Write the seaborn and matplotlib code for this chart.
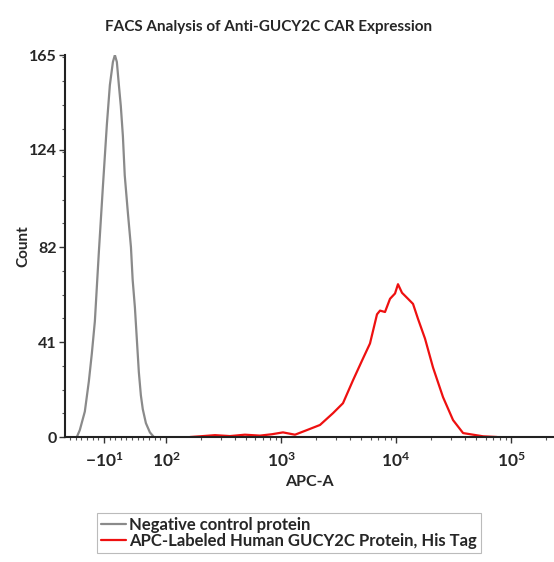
import numpy as np
import pandas as pd
import matplotlib
matplotlib.use("Agg")
import matplotlib.pyplot as plt
from matplotlib.ticker import FixedLocator, AutoMinorLocator
import seaborn as sns

# APC-A intensity vs event count
neg_x = [-58, -52.7, -43.8, -36.7, -31.4, -26, -18.9, -11.8, -4.7, 0.6, 6, 9.5,
         13, 16.6, 20, 23.7, 27, 32.5, 38, 41, 45, 48.5, 52, 55.6, 59, 64.5, 71.6, 78.7]
neg_y = [0, 3, 11, 24, 36, 50, 80, 108, 135, 152, 162, 165,
         162, 152, 143, 130, 113, 97, 82, 68, 56, 42, 28, 18, 12, 6, 2, 0]

apc_x = [162, 198, 267, 360, 486, 656, 835, 1041, 1324, 1683, 2183, 2833, 3459,
         4227, 5062, 5938, 6834, 7260, 8020, 8866, 9800, 10400, 11270, 12710,
         14050, 15530, 17860, 20970, 25620, 31310, 38270, 46770, 57150, 75590]
apc_y = [0, 0.3, 0.8, 0.4, 1.0, 0.6, 1.2, 2.0, 1.0, 3.0, 5.2, 10.3, 14.6,
         24.5, 33, 40.4, 53, 54.6, 54, 59.7, 62, 66, 62.3, 59.7,
         57.5, 51, 42.5, 30, 17.2, 7.3, 1.7, 1.0, 0.3, 0]

x_ticks = [-10, 100, 1e3, 1e4, 1e5]
x_ticklabels = [r"$-10^{1}$", r"$10^{2}$", r"$10^{3}$", r"$10^{4}$", r"$10^{5}$"]
y_ticks = [0, 41, 82, 124, 165]

neg_label = "Negative control protein"
apc_label = "APC-Labeled Human GUCY2C Protein, His Tag"

sns.set_style("ticks")
plt.rcParams["font.family"] = ["Lato", "DejaVu Sans"]
plt.rcParams["font.weight"] = "bold"
plt.rcParams["mathtext.fontset"] = "custom"
plt.rcParams["mathtext.rm"] = "Lato:bold"
plt.rcParams["mathtext.it"] = "Lato:bold"
plt.rcParams["mathtext.bf"] = "Lato:bold"
plt.rcParams["mathtext.default"] = "rm"

fig = plt.figure(figsize=(5.54, 5.62), dpi=100)
ax = fig.add_axes([0.1173, 0.2224, 0.8827, 0.6797])

df_neg = pd.DataFrame({"APC-A": neg_x, "Count": neg_y})
df_apc = pd.DataFrame({"APC-A": apc_x, "Count": apc_y})
sns.lineplot(data=df_neg, x="APC-A", y="Count", color="#8a8a8a", lw=1.6,
             ax=ax, label=neg_label)
sns.lineplot(data=df_apc, x="APC-A", y="Count", color="#ee1010", lw=1.6,
             ax=ax, label=apc_label)

ax.set_xscale("symlog", linthresh=100, linscale=0.441)
ax.set_xlim(-79, 2.36e5)
ax.set_ylim(0, 165)

ax.xaxis.set_major_locator(FixedLocator(x_ticks))
ax.set_xticklabels(x_ticklabels)
minor_x = list(range(-70, 100, 10))
for dec in [1e2, 1e3, 1e4, 1e5]:
    minor_x += [m * dec for m in range(2, 10)]
ax.xaxis.set_minor_locator(FixedLocator(minor_x))

ax.set_yticks(y_ticks)
ax.set_yticklabels([str(v) for v in y_ticks])
ax.yaxis.set_minor_locator(AutoMinorLocator(4))

ax.tick_params(axis="y", which="major", labelsize=11.5, length=4, width=1,
               color="#333333", pad=2)
ax.tick_params(axis="x", which="major", labelsize=12.5, length=4, width=1,
               color="#333333", pad=6)
ax.tick_params(axis="both", which="minor", length=2.5, width=0.8, color="#555555")

for side in ["top", "right"]:
    ax.spines[side].set_visible(False)
for side in ["left", "bottom"]:
    ax.spines[side].set_linewidth(1.5)
    ax.spines[side].set_color("#222222")

ax.set_xlabel("APC-A", fontsize=11.5, fontweight="bold", labelpad=4)
ax.set_ylabel("Count", fontsize=11, fontweight="bold", labelpad=-1)

fig.text(0.484, 1 - 27 / 562, "FACS Analysis of Anti-GUCY2C CAR Expression",
         ha="center", va="center", fontsize=11, fontweight="bold")

ax.legend(loc="upper left", bbox_to_anchor=(97 / 554, 1 - 513 / 562),
          bbox_transform=fig.transFigure, fontsize=12, frameon=True,
          fancybox=False, edgecolor="#aaaaaa", borderpad=0.25,
          handlelength=1.5, handletextpad=0.15, labelspacing=0.0,
          borderaxespad=0)
ax.get_legend().get_frame().set_linewidth(0.8)

fig.savefig("out.png", dpi=100)
